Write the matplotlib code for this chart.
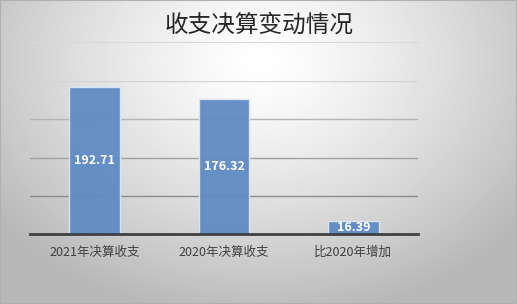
import matplotlib
matplotlib.use('Agg')
import matplotlib.pyplot as plt
import numpy as np

plt.rcParams['font.family'] = ['Noto Sans CJK SC', 'DejaVu Sans']

categories = ['2021年决算收支', '2020年决算收支', '比2020年增加']
values = [192.71, 176.32, 16.39]
title = '收支决算变动情况'

W, H = 517, 304
fig = plt.figure(figsize=(W / 100, H / 100), dpi=100)

# radial grey background
bg = fig.add_axes([0, 0, 1, 1])
yy, xx = np.mgrid[0:H, 0:W]
r = np.sqrt(((xx - 260) / 330.0) ** 2 + ((yy - 60) / 260.0) ** 2)
shade = np.clip(1.0 - 0.28 * r ** 1.3, 0.72, 1.0)
bg.imshow(shade, cmap='gray', vmin=0, vmax=1, aspect='auto', extent=[0, 1, 0, 1])
bg.axis('off')
bg.add_patch(plt.Rectangle((0, 0), 1, 1, transform=bg.transAxes, fill=False,
                           edgecolor='#b0b0b0', lw=1.5))

# plot area: x 30..418, y 81..234 (pixels from top)
ax = fig.add_axes([30 / W, 1 - 234 / H, 388 / W, 153 / H])
ax.patch.set_alpha(0)
x = np.arange(len(categories))
bars = ax.bar(x, values, width=0.39, color='#5f8bc4', edgecolor='#dce6f2',
              linewidth=1.0, zorder=3, alpha=0.95)
ax.set_xlim(-0.5, 2.5)
ax.set_ylim(0, 200)
ax.set_yticks([50, 100, 150, 200])
ax.tick_params(axis='y', left=False, labelleft=False)
ax.tick_params(axis='x', bottom=False, colors='#404040', labelsize=9, pad=5)
ax.set_xticks(x)
ax.set_xticklabels(categories)
for s in ['top', 'right', 'left']:
    ax.spines[s].set_visible(False)
ax.spines['bottom'].set_color('#404040')
ax.spines['bottom'].set_linewidth(2)
ax.spines['bottom'].set_zorder(4)

ax.grid(axis='y', zorder=0, linewidth=1)
for gl, c in zip(ax.get_ygridlines(), ['#8c8c8c', '#a0a0a0', '#b4b4b4', '#d4d4d4']):
    gl.set_color(c)

for b, v in zip(bars, values):
    ax.text(b.get_x() + b.get_width() / 2, v / 2, f'{v:.2f}', ha='center', va='center',
            color='white', fontsize=9, fontweight='bold', zorder=5)

fig.text(259 / W, 1 - 25 / H, title, ha='center', va='center', fontsize=17, color='#262626')
fig.add_artist(plt.Line2D([30 / W, 418 / W], [1 - 42 / H, 1 - 42 / H], color='#d9d9d9', lw=0.8))

fig.savefig('out.png', dpi=100)
